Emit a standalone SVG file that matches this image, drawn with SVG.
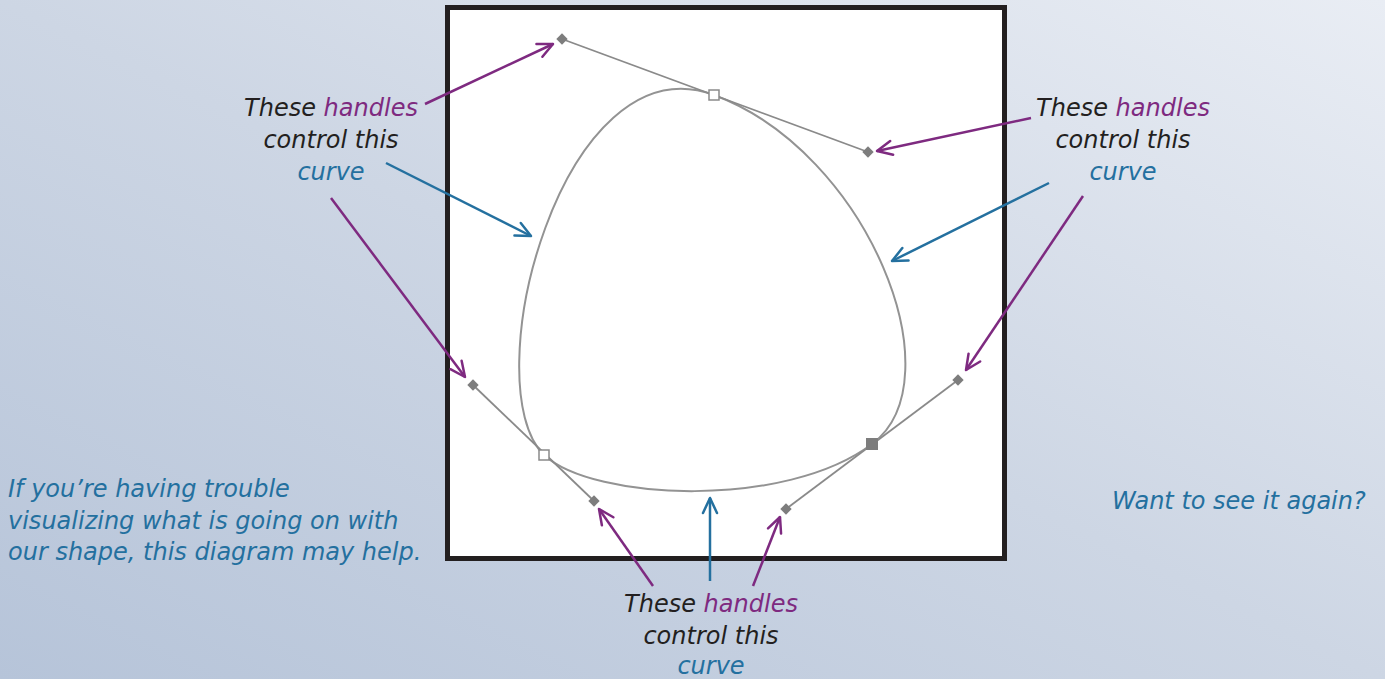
<svg xmlns="http://www.w3.org/2000/svg" width="1385" height="679" viewBox="0 0 1385 679">
  <defs>
    <linearGradient id="bg" x1="0" y1="1" x2="1" y2="0">
      <stop offset="0" stop-color="#b6c4d9"/>
      <stop offset="0.5" stop-color="#cdd6e4"/>
      <stop offset="1" stop-color="#e9edf4"/>
    </linearGradient>
    <marker id="ap" markerUnits="userSpaceOnUse" viewBox="-18 -10 20 20" markerWidth="20" markerHeight="20" refX="0" refY="0" orient="auto">
      <path d="M-15,-7 L0,0 L-15,7" fill="none" stroke="#7e2a80" stroke-width="2.5" stroke-linecap="round" stroke-linejoin="round"/>
    </marker>
    <marker id="ab" markerUnits="userSpaceOnUse" viewBox="-18 -10 20 20" markerWidth="20" markerHeight="20" refX="0" refY="0" orient="auto">
      <path d="M-15,-7 L0,0 L-15,7" fill="none" stroke="#24709f" stroke-width="2.5" stroke-linecap="round" stroke-linejoin="round"/>
    </marker>
    <rect id="dia" x="-4" y="-4" width="8" height="8" transform="rotate(45)" fill="#7d7d7d"/>
  </defs>
  <style>
    text { font-family: "DejaVu Sans", "Open Sans", sans-serif; font-style: italic; font-size: 24px; }
    .k { fill: #231f20; }
    .p { fill: #7e2a80; }
    .b { fill: #24709f; }
    .handle { stroke: #8a8a8a; stroke-width: 1.8; fill: none; }
    .curve { stroke: #939393; stroke-width: 2; fill: none; }
    .pa { stroke: #7e2a80; stroke-width: 2.5; fill: none; marker-end: url(#ap); }
    .ba { stroke: #24709f; stroke-width: 2.5; fill: none; marker-end: url(#ab); }
  </style>
  <rect width="1385" height="679" fill="url(#bg)"/>

  <g id="frame">
    <rect x="447.5" y="7.5" width="557" height="551" fill="#ffffff" stroke="#231f20" stroke-width="5"/>
  </g>

  <g id="shape">
    <path class="curve" d="M544,455 C473,385 562,39 714,95 C868,152 958,380 872,444 C786,509 594,501 544,455 Z"/>
  </g>

  <g id="handles">
    <line class="handle" x1="562" y1="39" x2="868" y2="152"/>
    <line class="handle" x1="473" y1="385" x2="594" y2="501"/>
    <line class="handle" x1="958" y1="380" x2="786" y2="509"/>
    <use href="#dia" x="562" y="39"/>
    <use href="#dia" x="868" y="152"/>
    <use href="#dia" x="473" y="385"/>
    <use href="#dia" x="594" y="501"/>
    <use href="#dia" x="786" y="509"/>
    <use href="#dia" x="958" y="380"/>
    <rect x="709" y="90" width="10" height="10" fill="#ffffff" stroke="#8a8a8a" stroke-width="1.5"/>
    <rect x="539" y="450" width="10" height="10" fill="#ffffff" stroke="#8a8a8a" stroke-width="1.5"/>
    <rect x="866" y="438" width="12" height="12" fill="#7d7d7d"/>
  </g>

  <g id="connectors">
    <line class="pa" x1="425" y1="104" x2="553" y2="44"/>
    <line class="ba" x1="386" y1="163" x2="531" y2="236"/>
    <line class="pa" x1="331" y1="198" x2="465" y2="377"/>
    <line class="pa" x1="1031" y1="118" x2="877" y2="151"/>
    <line class="ba" x1="1049" y1="183" x2="892" y2="261"/>
    <line class="pa" x1="1083" y1="196" x2="966" y2="370"/>
    <line class="pa" x1="653" y1="586" x2="599" y2="509"/>
    <line class="ba" x1="710" y1="581" x2="710" y2="498"/>
    <line class="pa" x1="753" y1="586" x2="780" y2="517"/>
  </g>

  <g id="label-top-left" text-anchor="middle">
    <text x="331" y="116"><tspan class="k">These </tspan><tspan class="p">handles</tspan></text>
    <text x="331" y="148" class="k">control this</text>
    <text x="331" y="180" class="b">curve</text>
  </g>

  <g id="label-top-right" text-anchor="middle">
    <text x="1123" y="116"><tspan class="k">These </tspan><tspan class="p">handles</tspan></text>
    <text x="1123" y="148" class="k">control this</text>
    <text x="1123" y="180" class="b">curve</text>
  </g>

  <g id="label-bottom" text-anchor="middle">
    <text x="711" y="612"><tspan class="k">These </tspan><tspan class="p">handles</tspan></text>
    <text x="711" y="644" class="k">control this</text>
    <text x="711" y="674" class="b">curve</text>
  </g>

  <g id="note-left">
    <text x="8" y="497" class="b">If you’re having trouble</text>
    <text x="8" y="529" class="b">visualizing what is going on with</text>
    <text x="8" y="560" class="b">our shape, this diagram may help.</text>
  </g>

  <g id="note-right">
    <text x="1112" y="509" class="b">Want to see it again?</text>
  </g>
</svg>
